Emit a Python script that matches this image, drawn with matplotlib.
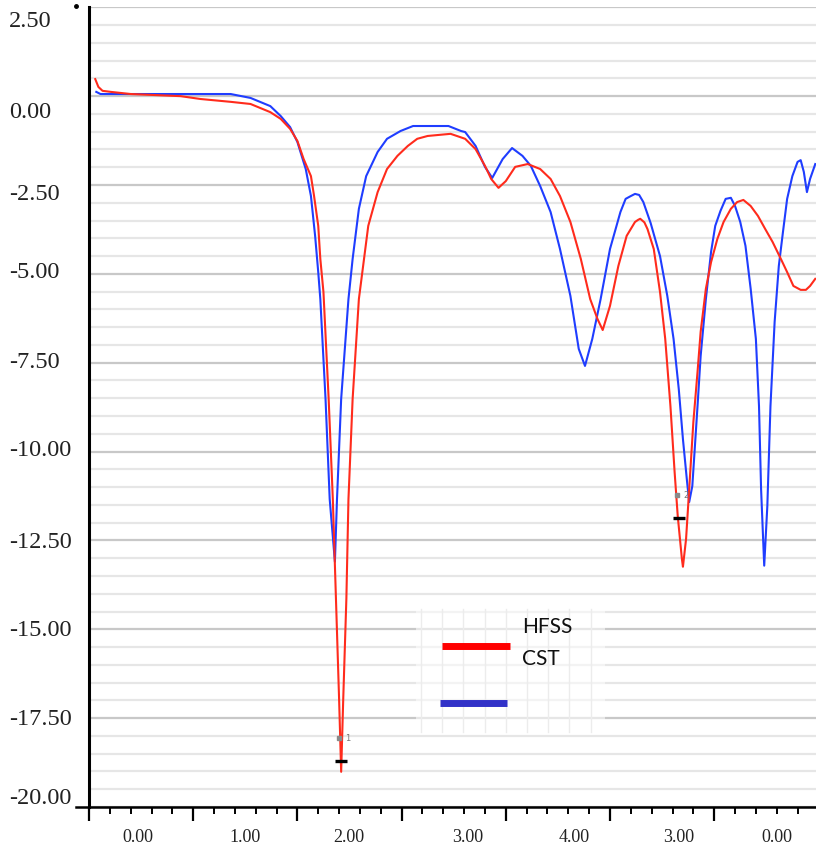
import numpy as np
import matplotlib
matplotlib.use("Agg")
import matplotlib.pyplot as plt
from matplotlib.patches import Rectangle
from matplotlib.transforms import blended_transform_factory, ScaledTranslation

# HFSS curve (red)
hfss_x = [0.06, 0.09, 0.13, 0.21, 0.40, 0.88, 1.07, 1.36, 1.55, 1.74, 1.84, 1.93, 2.00, 2.06, 2.13,
          2.16, 2.20, 2.22, 2.25, 2.30, 2.34, 2.37, 2.40, 2.42, 2.44, 2.47, 2.49, 2.53, 2.59,
          2.68, 2.77, 2.86, 2.96, 3.06, 3.15, 3.25, 3.47, 3.61, 3.71, 3.80, 3.86, 3.93, 4.00, 4.09,
          4.21, 4.33, 4.43, 4.52, 4.62, 4.72, 4.81, 4.88, 4.93, 5.00, 5.08, 5.16, 5.24, 5.27, 5.29,
          5.33, 5.36, 5.42, 5.48, 5.53, 5.58, 5.62, 5.65, 5.69, 5.70, 5.73, 5.76, 5.80, 5.84, 5.87,
          5.92, 5.97, 6.03, 6.09, 6.16, 6.22, 6.28, 6.35, 6.42, 6.49, 6.56, 6.64, 6.70, 6.76, 6.83,
          6.88, 6.92, 6.97]
hfss_y = [0.48, 0.26, 0.15, 0.12, 0.06, 0.00, -0.08, -0.16, -0.22, -0.45, -0.64, -0.92, -1.26, -1.77, -2.25,
          -2.81, -3.65, -4.58, -5.51, -8.52, -11.34, -14.14, -16.95, -19.01, -16.95, -14.14, -11.34, -8.52, -5.71,
          -3.65, -2.70, -2.05, -1.68, -1.40, -1.20, -1.12, -1.06, -1.20, -1.49, -1.96, -2.33, -2.58, -2.39, -1.99,
          -1.91, -2.05, -2.33, -2.81, -3.54, -4.58, -5.71, -6.27, -6.58, -5.90, -4.78, -3.93, -3.54, -3.48, -3.45,
          -3.55, -3.74, -4.30, -5.51, -6.83, -8.72, -10.57, -11.81, -13.02, -13.24, -12.46, -11.06, -9.17, -7.76, -6.63,
          -5.42, -4.67, -4.02, -3.54, -3.17, -2.98, -2.92, -3.09, -3.37, -3.74, -4.10, -4.58, -4.95, -5.34, -5.45,
          -5.45, -5.34, -5.14]

# CST curve (blue)
cst_x = [0.07, 0.11, 1.36, 1.55, 1.74, 1.84, 1.93, 2.00, 2.08, 2.13, 2.17, 2.20, 2.22, 2.27, 2.31,
         2.36, 2.38, 2.42, 2.49, 2.53, 2.59, 2.66, 2.77, 2.86, 2.99, 3.11, 3.45, 3.57, 3.61, 3.71,
         3.80, 3.87, 3.97, 4.06, 4.16, 4.24, 4.33, 4.43, 4.52, 4.62, 4.70, 4.76, 4.83, 4.91, 5.00,
         5.10, 5.15, 5.20, 5.24, 5.28, 5.32, 5.39, 5.48, 5.55, 5.61, 5.66, 5.70, 5.74, 5.76, 5.79,
         5.84, 5.87, 5.92, 5.97, 6.01, 6.06, 6.11, 6.16, 6.20, 6.25, 6.30, 6.35, 6.40, 6.43, 6.45,
         6.48, 6.51, 6.54, 6.58, 6.62, 6.66, 6.70, 6.75, 6.80, 6.83, 6.86, 6.89, 6.92, 6.97]
cst_y = [0.12, 0.06, 0.06, -0.05, -0.28, -0.56, -0.87, -1.29, -2.05, -2.81, -3.93, -4.95, -5.71, -8.52, -11.34,
         -13.10, -11.34, -8.52, -5.71, -4.58, -3.17, -2.25, -1.57, -1.20, -0.98, -0.84, -0.84, -0.98, -1.01, -1.40,
         -1.99, -2.30, -1.77, -1.46, -1.68, -1.96, -2.53, -3.26, -4.30, -5.62, -7.11, -7.59, -6.83, -5.71, -4.30,
         -3.26, -2.89, -2.81, -2.75, -2.78, -2.98, -3.57, -4.50, -5.62, -6.83, -8.24, -9.65, -10.86, -11.42, -10.97,
         -8.72, -7.31, -5.71, -4.38, -3.65, -3.23, -2.89, -2.86, -3.09, -3.54, -4.21, -5.42, -6.83, -8.72, -11.06,
         -13.21, -11.53, -8.72, -6.35, -4.78, -3.82, -2.89, -2.25, -1.85, -1.80, -2.13, -2.70, -2.33, -1.91]

# markers m1, m2
marker_x = [2.42, 5.66]
marker_y = [-18.71, -11.87]
marker_names = ["1", "2"]

y_ticks = [2.5, 0.0, -2.5, -5.0, -7.5, -10.0, -12.5, -15.0, -17.5, -20.0]
y_labels = ["2.50", "0.00", "-2.50", "-5.00", "-7.50", "-10.00", "-12.50", "-15.00", "-17.50", "-20.00"]
y_label_shift = [13, 15, 8, -2, -1, -2, 1, 0, 0, -9]   # px, labels sit a bit off the lines

x_labels = ["0.00", "1.00", "2.00", "3.00", "4.00", "3.00", "0.00"]
x_label_pos = [0.47, 1.50, 2.49, 3.63, 4.66, 5.66, 6.60]

fig = plt.figure(figsize=(8.16, 8.54), dpi=100)
ax = fig.add_axes([89 / 816, 46 / 854, 727 / 816, 799.7 / 854])
ax.set_xlim(0, 6.977)
ax.set_ylim(-20, 2.5)

# grid
ax.set_axisbelow(True)
ax.set_yticks(y_ticks)
ax.set_yticks(np.arange(-20, 2.51, 0.5), minor=True)
ax.set_yticklabels([])
ax.tick_params(axis="y", which="both", length=0)
ax.grid(axis="y", which="minor", color="#e6e6e6", lw=1.6)
ax.grid(axis="y", which="major", color="#c8c8c8", lw=1.6)

ax.set_xticks(np.arange(0, 7))
ax.set_xticks(np.arange(0, 7, 0.2), minor=True)
ax.set_xticklabels([])
ax.tick_params(axis="x", which="major", length=10, width=1.6, direction="out", color="black")
ax.tick_params(axis="x", which="minor", length=5, width=1.4, direction="out", color="black")

for s in ["top", "right"]:
    ax.spines[s].set_visible(False)
ax.spines["left"].set_linewidth(2.2)
ax.spines["bottom"].set_linewidth(1.8)
ax.plot([-0.018, 0], [0, 0], transform=ax.transAxes, color="black", lw=1.8, clip_on=False)
ax.plot([-0.018], [1.0016], transform=ax.transAxes, marker="o", ms=2.5, color="black", clip_on=False)

# tick labels (left aligned, Times-like)
ylab_tr = blended_transform_factory(ax.transAxes, ax.transData)
for v, lab, dy in zip(y_ticks, y_labels, y_label_shift):
    tr = ylab_tr + ScaledTranslation(-0.80, -dy / 100, fig.dpi_scale_trans)
    ax.text(0, v, lab, transform=tr, ha="left", va="center", fontsize=17.5,
            family="Liberation Serif", color="#222222")
for xp, lab in zip(x_label_pos, x_labels):
    ax.text(xp, -0.0375, lab, transform=ax.get_xaxis_transform(), ha="center", va="center",
            fontsize=13, family="Liberation Serif", color="#222222")

# curves
ax.plot(cst_x, cst_y, color="#1f3dff", lw=1.5, zorder=3)
ax.plot(hfss_x, hfss_y, color="#ff2b1c", lw=1.5, zorder=4)

# marker ticks and labels
ax.plot(marker_x, marker_y, ls="none", marker="_", ms=9, mew=2.4, color="black", zorder=5)
for mx, my, nm in zip(marker_x, marker_y, marker_names):
    ax.plot([mx - 0.02], [my + 0.66], marker="s", ms=3, color="#8a8a8a", zorder=5)
    ax.text(mx + 0.04, my + 0.66, nm, fontsize=6, color="#777777", va="center", zorder=5)

# legend block with its own faint grid
ax.add_patch(Rectangle((0.450, 0.0938), 0.260, 0.1538, transform=ax.transAxes,
                       facecolor="white", edgecolor="none", alpha=0.55, zorder=1))
for k in range(9):
    xv = (421 - 89 + k * 21.2) / 727
    ax.plot([xv, xv], [0.0938, 0.2476], transform=ax.transAxes, color="#ececec", lw=1, zorder=1.2)
ax.plot([0.4856, 0.579], [0.2013, 0.2013], transform=ax.transAxes, color="#ff0000", lw=5,
        solid_capstyle="butt", zorder=6)
ax.plot([0.4828, 0.5749], [0.130, 0.130], transform=ax.transAxes, color="#3232c8", lw=5,
        solid_capstyle="butt", zorder=6)
ax.text(0.5956, 0.2263, "HFSS", transform=ax.transAxes, fontsize=15, family="Lato",
        va="center", ha="left", color="#111111", zorder=6)
ax.text(0.5956, 0.1863, "CST", transform=ax.transAxes, fontsize=15, family="Lato",
        va="center", ha="left", color="#111111", zorder=6)

fig.savefig("out.png", dpi=100)
